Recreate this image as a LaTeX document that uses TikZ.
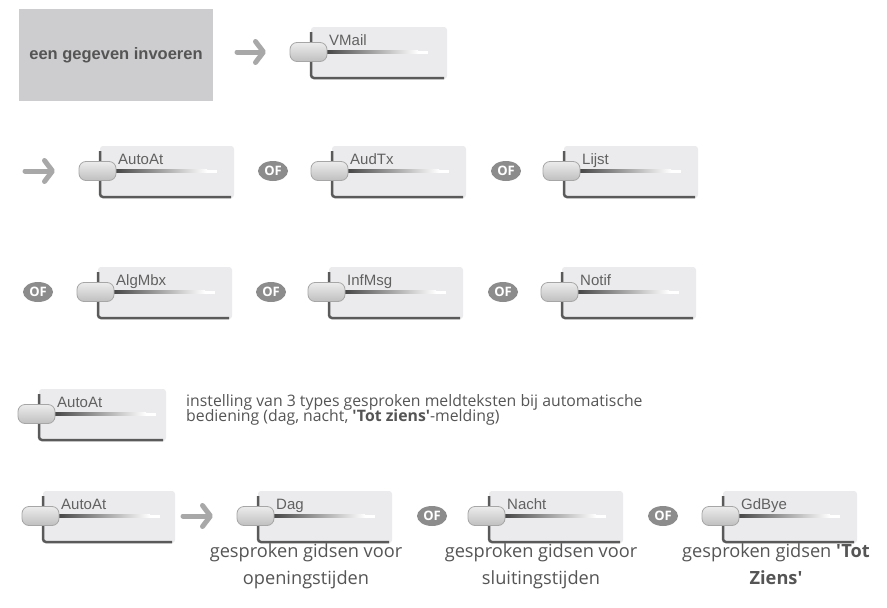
\documentclass[tikz,border=0pt]{standalone}
\usepackage{fontspec}
\setmainfont{Open Sans}[Ligatures=TeXOff]
\newfontfamily\keyfont{Liberation Sans}
\newfontfamily\boxfont{Liberation Sans}
\usetikzlibrary{arrows.meta,shapes.geometric}
\definecolor{keyfill}{HTML}{EBEBED}
\definecolor{keyedge}{HTML}{5A5A5A}
\definecolor{ofgray}{HTML}{8C8C8C}
\definecolor{arrgray}{HTML}{A8A8A8}
\definecolor{txtgray}{HTML}{555555}
\definecolor{boxgray}{HTML}{CDCDCF}
\tikzset{
  pill/.style={rectangle, rounded corners=7pt, minimum width=37pt, minimum height=19pt,
    inner sep=0pt, top color=gray!15, bottom color=gray!50, draw=gray!70, line width=0.8pt},
  keylabel/.style={anchor=base west, inner sep=0pt, font=\keyfont\fontsize{15}{15}\selectfont, text=black!62},
  ofbadge/.style={ellipse, fill=ofgray, minimum width=30pt, minimum height=20pt, inner sep=0pt,
    text=white, font=\bfseries\fontsize{13}{13}\selectfont},
  arrowline/.style={draw=arrgray, line width=5pt, line cap=round,
    -{Straight Barb[length=8pt,width=21pt,round]}},
  desc/.style={anchor=base west, inner sep=0pt, text=txtgray, font=\fontsize{15.8}{16}\selectfont},
  capt/.style={anchor=base, inner sep=0pt, text=txtgray, font=\fontsize{18.2}{20}\selectfont}
}
% key: name, pill-left x, centre y, label, box width
\newcommand\keyb[5]{%
  \fill[keyfill, rounded corners=3pt] (#2+21,#3-25) rectangle (#2+#5,#3+27);
  \draw[keyedge, line width=2.5pt, rounded corners=3pt] (#2+21,#3-20) -- (#2+21,#3+26) -- (#2+#5-3,#3+26);
  \shade[left color=black!72, right color=white] (#2+37,#3-1.5) rectangle (#2+128,#3+1.5);
  \fill[white] (#2+128,#3-1.5) rectangle (#2+138,#3+1.5);
  \node[pill] (#1) at (#2+18.5,#3) {};
  \node[keylabel] (#1l) at (#2+39,#3-7) {#4};
}
\begin{document}
\begin{tikzpicture}[x=1pt,y=-1pt]
\useasboundingbox[fill=white] (0,0) rectangle (887,608);
% intro box
\node[fill=boxgray, minimum width=194pt, minimum height=92pt, inner sep=0pt,
  text=txtgray, font=\boxfont\bfseries\fontsize{16.5}{16.5}\selectfont] (intro) at (116,55) {een gegeven invoeren};
% row 1
\coordinate (a1s) at (237,52); \coordinate (a1e) at (266,52);
\draw[arrowline] (a1s) -- (a1e);
\keyb{vmail}{290}{52}{VMail}{157}
% row 2
\coordinate (a2s) at (25,171); \coordinate (a2e) at (55,171);
\draw[arrowline] (a2s) -- (a2e);
\keyb{autoat}{79}{171}{AutoAt}{155}
\node[ofbadge] (of21) at (273,171) {OF};
\keyb{audtx}{311}{171}{AudTx}{155}
\node[ofbadge] (of22) at (506,171) {OF};
\keyb{lijst}{543}{171}{Lijst}{155}
% row 3
\node[ofbadge] (of31) at (38,292) {OF};
\keyb{algmbx}{77}{292}{AlgMbx}{155}
\node[ofbadge] (of32) at (271,292) {OF};
\keyb{infmsg}{308}{292}{InfMsg}{155}
\node[ofbadge] (of33) at (503,292) {OF};
\keyb{notif}{541}{292}{Notif}{155}
% row 4
\keyb{autoatb}{18}{414}{AutoAt}{148}
\node[desc] (d1) at (186,406) {instelling van 3 types gesproken meldteksten bij automatische};
\node[desc] (d2) at (186,421) {bediening (dag, nacht, \textbf{'Tot ziens'}-melding)};
% row 5
\keyb{autoatc}{22}{516}{AutoAt}{153}
\coordinate (a3s) at (183,516); \coordinate (a3e) at (213,516);
\draw[arrowline] (a3s) -- (a3e);
\keyb{dag}{237}{516}{Dag}{155}
\node[ofbadge] (of51) at (432,516) {OF};
\keyb{nacht}{468}{516}{Nacht}{155}
\node[ofbadge] (of52) at (663,516) {OF};
\keyb{gdbye}{702}{516}{GdBye}{155}
% captions
\node[capt] (c1a) at (306,557) {gesproken gidsen voor};
\node[capt] (c1b) at (306,584) {openingstijden};
\node[capt] (c2a) at (541,557) {gesproken gidsen voor};
\node[capt] (c2b) at (541,584) {sluitingstijden};
\node[capt] (c3a) at (776,557) {gesproken gidsen \textbf{'Tot}};
\node[capt] (c3b) at (776,584) {\textbf{Ziens'}};
\end{tikzpicture}
\end{document}
